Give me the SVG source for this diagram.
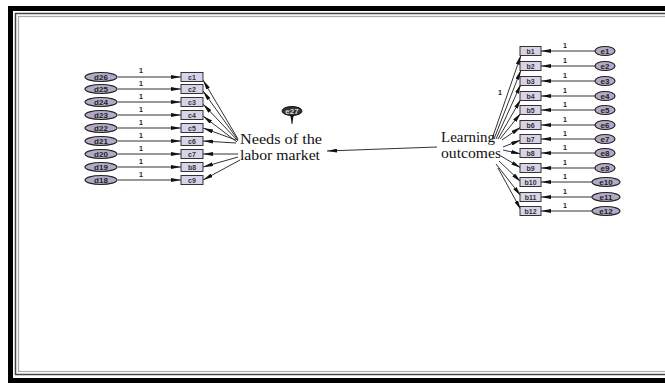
<svg xmlns="http://www.w3.org/2000/svg" width="665" height="383" viewBox="0 0 665 383">
<style>
.box{fill:#d9d3ea;stroke:#333;stroke-width:1}
.ell{fill:#b3aac8;stroke:#222;stroke-width:1.2}
.bl{font-family:"Liberation Sans",Arial,sans-serif;font-size:7px;font-weight:bold;fill:#333;text-anchor:middle}
.el{font-family:"Liberation Sans",Arial,sans-serif;font-size:8px;font-weight:bold;fill:#222;text-anchor:middle}
.one{font-family:"Liberation Sans",Arial,sans-serif;font-size:7px;font-weight:bold;fill:#222;text-anchor:middle}
.big{font-family:"Liberation Serif","Times New Roman",serif;font-size:14px;fill:#111}
.ln{stroke:#333;stroke-width:1;fill:none;marker-end:url(#ah)}
</style>
<defs>
<marker id="ah" viewBox="0 0 10 4" refX="10" refY="2" markerWidth="10" markerHeight="4" markerUnits="userSpaceOnUse" orient="auto">
<path d="M0,0 L10,2 L0,4 z" fill="#111"/>
</marker>
</defs>
<rect x="0" y="0" width="665" height="383" fill="#fff"/>
<rect x="8" y="6" width="670" height="377" fill="#000"/>
<rect x="13" y="11" width="670" height="367" fill="#fff"/>
<rect x="15.5" y="13.5" width="670" height="361" fill="none" stroke="#444" stroke-width="1.5"/>
<rect x="18.5" y="16.5" width="670" height="355" fill="none" stroke="#aaa" stroke-width="1.2"/>

<g id="connectors">
<line class="ln" x1="118" y1="77" x2="181" y2="77"/>
<line class="ln" x1="118" y1="89" x2="181" y2="89"/>
<line class="ln" x1="118" y1="102" x2="181" y2="102"/>
<line class="ln" x1="118" y1="115" x2="181" y2="115"/>
<line class="ln" x1="118" y1="128" x2="181" y2="128"/>
<line class="ln" x1="118" y1="141" x2="181" y2="141"/>
<line class="ln" x1="118" y1="154" x2="181" y2="154"/>
<line class="ln" x1="118" y1="167" x2="181" y2="167"/>
<line class="ln" x1="118" y1="180" x2="181" y2="180"/>
<line class="ln" x1="238" y1="139" x2="203" y2="80"/>
<line class="ln" x1="238" y1="140" x2="203" y2="91"/>
<line class="ln" x1="238" y1="141" x2="203" y2="104"/>
<line class="ln" x1="237" y1="142" x2="203" y2="116"/>
<line class="ln" x1="236" y1="140" x2="203" y2="128"/>
<line class="ln" x1="236" y1="143" x2="203" y2="141"/>
<line class="ln" x1="238" y1="154" x2="203" y2="154"/>
<line class="ln" x1="238" y1="157" x2="203" y2="167"/>
<line class="ln" x1="240" y1="160" x2="203" y2="180"/>
<line class="ln" x1="437" y1="147" x2="327" y2="151"/>
<line class="ln" x1="292" y1="114" x2="292" y2="124"/>
<line class="ln" x1="492" y1="139" x2="521" y2="55"/>
<line class="ln" x1="494" y1="139" x2="521" y2="70"/>
<line class="ln" x1="496" y1="139" x2="521" y2="84"/>
<line class="ln" x1="498" y1="139" x2="521" y2="99"/>
<line class="ln" x1="500" y1="139" x2="521" y2="113"/>
<line class="ln" x1="502" y1="140" x2="521" y2="127"/>
<line class="ln" x1="503" y1="147" x2="521" y2="140"/>
<line class="ln" x1="503" y1="150" x2="521" y2="154"/>
<line class="ln" x1="501" y1="156" x2="521" y2="168"/>
<line class="ln" x1="499" y1="161" x2="521" y2="182"/>
<line class="ln" x1="496" y1="164" x2="521" y2="196"/>
<line class="ln" x1="498" y1="168" x2="521" y2="210"/>
<line class="ln" x1="595" y1="51" x2="541" y2="51"/>
<line class="ln" x1="595" y1="66" x2="541" y2="66"/>
<line class="ln" x1="595" y1="81" x2="541" y2="81"/>
<line class="ln" x1="595" y1="96" x2="541" y2="96"/>
<line class="ln" x1="595" y1="110" x2="541" y2="110"/>
<line class="ln" x1="595" y1="125" x2="541" y2="125"/>
<line class="ln" x1="595" y1="139" x2="541" y2="139"/>
<line class="ln" x1="595" y1="153" x2="541" y2="153"/>
<line class="ln" x1="595" y1="168" x2="541" y2="168"/>
<line class="ln" x1="592" y1="182" x2="541" y2="182"/>
<line class="ln" x1="592" y1="197" x2="541" y2="197"/>
<line class="ln" x1="592" y1="211" x2="541" y2="211"/>
<text class="one" x="141" y="73">1</text>
<text class="one" x="141" y="86">1</text>
<text class="one" x="141" y="99">1</text>
<text class="one" x="141" y="112">1</text>
<text class="one" x="141" y="125">1</text>
<text class="one" x="141" y="138">1</text>
<text class="one" x="141" y="151">1</text>
<text class="one" x="141" y="164">1</text>
<text class="one" x="141" y="177">1</text>
<text class="one" x="565" y="48">1</text>
<text class="one" x="565" y="63">1</text>
<text class="one" x="565" y="78">1</text>
<text class="one" x="565" y="93">1</text>
<text class="one" x="565" y="107">1</text>
<text class="one" x="565" y="122">1</text>
<text class="one" x="565" y="136">1</text>
<text class="one" x="565" y="150">1</text>
<text class="one" x="565" y="165">1</text>
<text class="one" x="565" y="179">1</text>
<text class="one" x="565" y="194">1</text>
<text class="one" x="565" y="208">1</text>
<text class="one" x="500" y="95">1</text>
</g>

<g id="d26"><ellipse class="ell" cx="101" cy="77" rx="16" ry="4.5"/><text class="el" x="101" y="80">d26</text></g>
<g id="d25"><ellipse class="ell" cx="101" cy="89" rx="16" ry="4.5"/><text class="el" x="101" y="92">d25</text></g>
<g id="d24"><ellipse class="ell" cx="101" cy="102" rx="16" ry="4.5"/><text class="el" x="101" y="105">d24</text></g>
<g id="d23"><ellipse class="ell" cx="101" cy="115" rx="16" ry="4.5"/><text class="el" x="101" y="118">d23</text></g>
<g id="d22"><ellipse class="ell" cx="101" cy="128" rx="16" ry="4.5"/><text class="el" x="101" y="131">d22</text></g>
<g id="d21"><ellipse class="ell" cx="101" cy="141" rx="16" ry="4.5"/><text class="el" x="101" y="144">d21</text></g>
<g id="d20"><ellipse class="ell" cx="101" cy="154" rx="16" ry="4.5"/><text class="el" x="101" y="157">d20</text></g>
<g id="d19"><ellipse class="ell" cx="101" cy="167" rx="16" ry="4.5"/><text class="el" x="101" y="170">d19</text></g>
<g id="d18"><ellipse class="ell" cx="101" cy="180" rx="16" ry="4.5"/><text class="el" x="101" y="183">d18</text></g>

<g id="c1"><rect class="box" x="181" y="72.5" width="22" height="9"/><text class="bl" x="192" y="80">c1</text></g>
<g id="c2"><rect class="box" x="181" y="84.5" width="22" height="9"/><text class="bl" x="192" y="92">c2</text></g>
<g id="c3"><rect class="box" x="181" y="97.5" width="22" height="9"/><text class="bl" x="192" y="105">c3</text></g>
<g id="c4"><rect class="box" x="181" y="110.5" width="22" height="9"/><text class="bl" x="192" y="118">c4</text></g>
<g id="c5"><rect class="box" x="181" y="123.5" width="22" height="9"/><text class="bl" x="192" y="131">c5</text></g>
<g id="c6"><rect class="box" x="181" y="136.5" width="22" height="9"/><text class="bl" x="192" y="144">c6</text></g>
<g id="c7"><rect class="box" x="181" y="149.5" width="22" height="9"/><text class="bl" x="192" y="157">c7</text></g>
<g id="c8"><rect class="box" x="181" y="162.5" width="22" height="9"/><text class="bl" x="192" y="170">b8</text></g>
<g id="c9"><rect class="box" x="181" y="175.5" width="22" height="9"/><text class="bl" x="192" y="183">c9</text></g>

<g id="e27"><ellipse cx="292" cy="111" rx="10" ry="4.5" fill="#333" stroke="#111"/><text class="el" x="292" y="114" style="fill:#ddd">e27</text></g>

<g id="needs"><text class="big" x="240" y="144" textLength="82" lengthAdjust="spacingAndGlyphs">Needs of the</text><text class="big" x="240" y="160" textLength="80" lengthAdjust="spacingAndGlyphs">labor market</text></g>
<g id="learning"><text class="big" x="441" y="142" textLength="54" lengthAdjust="spacingAndGlyphs">Learning</text><text class="big" x="441" y="158" textLength="60" lengthAdjust="spacingAndGlyphs">outcomes</text></g>

<g id="b1"><rect class="box" x="520" y="46.5" width="21" height="9"/><text class="bl" x="530.5" y="54">b1</text></g>
<g id="b2"><rect class="box" x="520" y="61.5" width="21" height="9"/><text class="bl" x="530.5" y="69">b2</text></g>
<g id="b3"><rect class="box" x="520" y="76.5" width="21" height="9"/><text class="bl" x="530.5" y="84">b3</text></g>
<g id="b4"><rect class="box" x="520" y="91.5" width="21" height="9"/><text class="bl" x="530.5" y="99">b4</text></g>
<g id="b5"><rect class="box" x="520" y="105.5" width="21" height="9"/><text class="bl" x="530.5" y="113">b5</text></g>
<g id="b6"><rect class="box" x="520" y="120.5" width="21" height="9"/><text class="bl" x="530.5" y="128">b6</text></g>
<g id="b7"><rect class="box" x="520" y="134.5" width="21" height="9"/><text class="bl" x="530.5" y="142">b7</text></g>
<g id="b8"><rect class="box" x="520" y="148.5" width="21" height="9"/><text class="bl" x="530.5" y="156">b8</text></g>
<g id="b9"><rect class="box" x="520" y="163.5" width="21" height="9"/><text class="bl" x="530.5" y="171">b9</text></g>
<g id="b10"><rect class="box" x="520" y="177.5" width="21" height="9"/><text class="bl" x="530.5" y="185">b10</text></g>
<g id="b11"><rect class="box" x="520" y="192.5" width="21" height="9"/><text class="bl" x="530.5" y="200">b11</text></g>
<g id="b12"><rect class="box" x="520" y="206.5" width="21" height="9"/><text class="bl" x="530.5" y="214">b12</text></g>

<g id="e1"><ellipse class="ell" cx="605" cy="51" rx="10" ry="4.5"/><text class="el" x="605" y="54">e1</text></g>
<g id="e2"><ellipse class="ell" cx="605" cy="66" rx="10" ry="4.5"/><text class="el" x="605" y="69">e2</text></g>
<g id="e3"><ellipse class="ell" cx="605" cy="81" rx="10" ry="4.5"/><text class="el" x="605" y="84">e3</text></g>
<g id="e4"><ellipse class="ell" cx="605" cy="96" rx="10" ry="4.5"/><text class="el" x="605" y="99">e4</text></g>
<g id="e5"><ellipse class="ell" cx="605" cy="110" rx="10" ry="4.5"/><text class="el" x="605" y="113">e5</text></g>
<g id="e6"><ellipse class="ell" cx="605" cy="125" rx="10" ry="4.5"/><text class="el" x="605" y="128">e6</text></g>
<g id="e7"><ellipse class="ell" cx="605" cy="139" rx="10" ry="4.5"/><text class="el" x="605" y="142">e7</text></g>
<g id="e8"><ellipse class="ell" cx="605" cy="153" rx="10" ry="4.5"/><text class="el" x="605" y="156">e8</text></g>
<g id="e9"><ellipse class="ell" cx="605" cy="168" rx="10" ry="4.5"/><text class="el" x="605" y="171">e9</text></g>
<g id="e10"><ellipse class="ell" cx="606" cy="182" rx="14" ry="4.5"/><text class="el" x="606" y="185">e10</text></g>
<g id="e11"><ellipse class="ell" cx="606" cy="197" rx="14" ry="4.5"/><text class="el" x="606" y="200">e11</text></g>
<g id="e12"><ellipse class="ell" cx="606" cy="211" rx="14" ry="4.5"/><text class="el" x="606" y="214">e12</text></g>
</svg>
